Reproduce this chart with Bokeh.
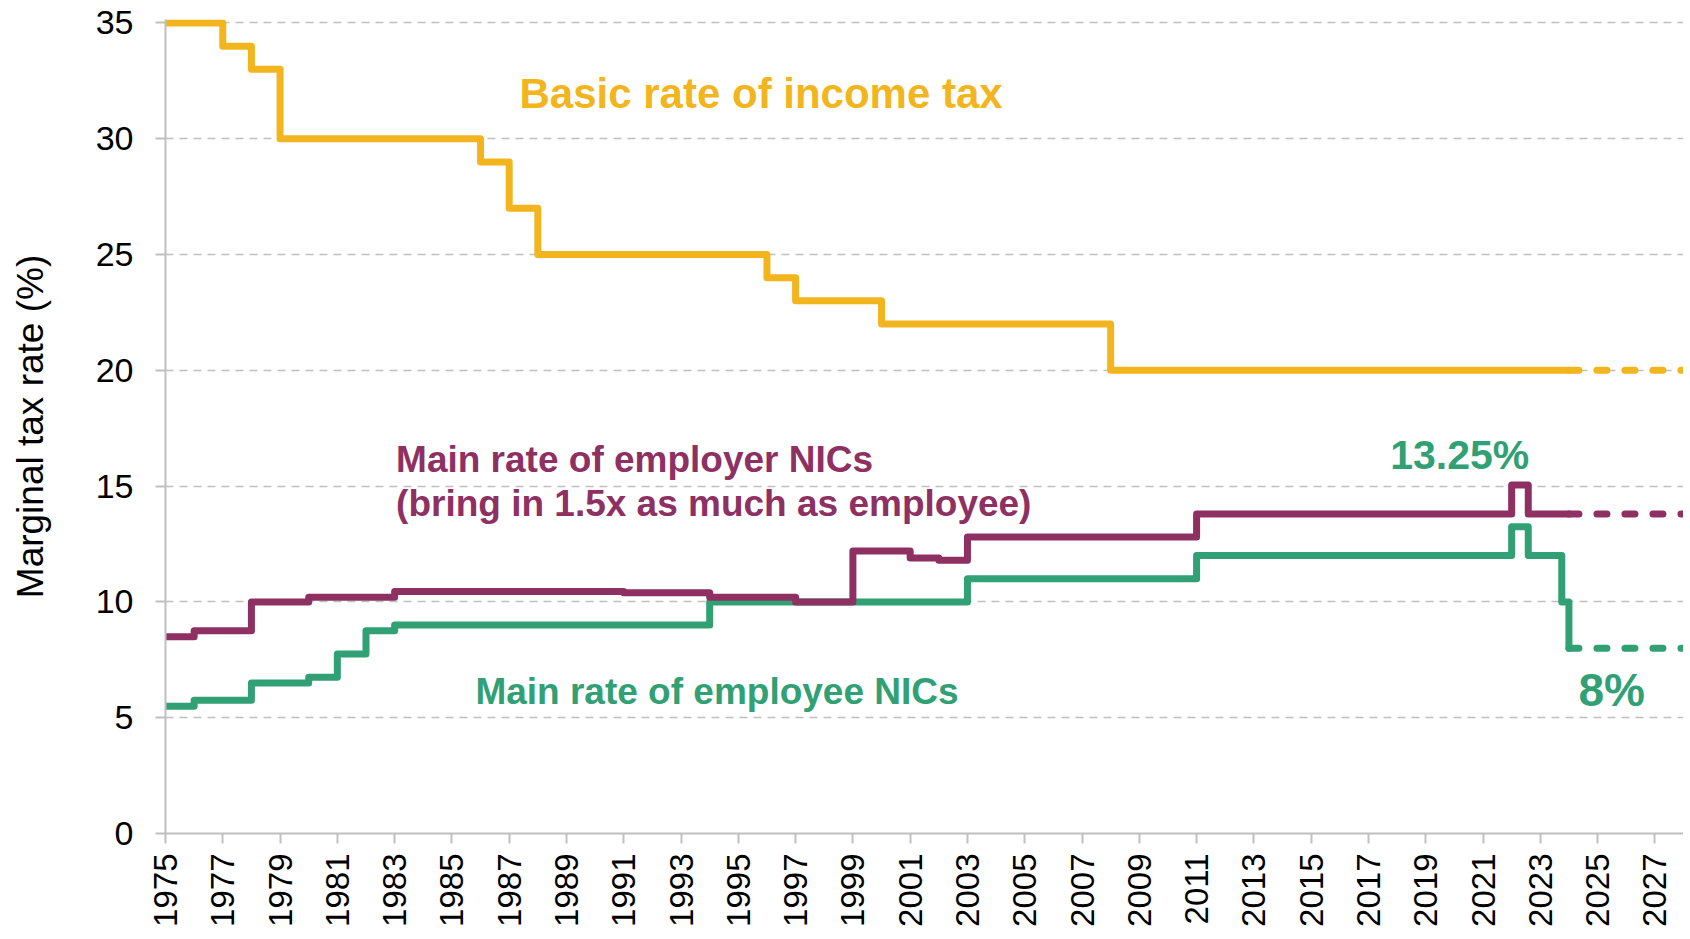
from math import pi
from bokeh.plotting import figure
from bokeh.models import Range1d, FixedTicker, ColumnDataSource
from bokeh.core.properties import value
from bokeh.embed import file_html
from bokeh.resources import INLINE

# ---- data ----
x_tick_years = list(range(1975, 2028, 2))
x_tick_labels = [str(y) for y in x_tick_years]
y_tick_values = [0, 5, 10, 15, 20, 25, 30, 35]
y_tick_labels = ["0", "5", "10", "15", "20", "25", "30", "35"]

basic_years = [1975, 1977, 1978, 1979, 1986, 1987, 1988, 1996, 1997, 2000, 2008, 2024]
basic_rates = [35, 34, 33, 30, 29, 27, 25, 24, 23, 22, 20, 20]
basic_proj_years = [2024, 2028]
basic_proj_rates = [20, 20]

employer_years = [1975, 1976, 1978, 1980, 1983, 1991, 1994, 1997, 1999, 2001, 2002, 2003,
                  2011, 2022, 2022.58, 2024]
employer_rates = [8.5, 8.75, 10, 10.2, 10.45, 10.4, 10.2, 10, 12.2, 11.9, 11.8, 12.8,
                  13.8, 15.05, 13.8, 13.8]
employer_proj_years = [2024, 2028]
employer_proj_rates = [13.8, 13.8]

employee_years = [1975, 1976, 1978, 1980, 1981, 1982, 1983, 1994, 2003, 2011, 2022,
                  2022.58, 2023.75, 2024]
employee_rates = [5.5, 5.75, 6.5, 6.75, 7.75, 8.75, 9, 10, 11, 12, 13.25, 12, 10, 8]
employee_proj_years = [2024, 2028]
employee_proj_rates = [8, 8]

label_texts = ["Basic rate of income tax", "Main rate of employer NICs",
               "(bring in 1.5x as much as employee)", "Main rate of employee NICs",
               "13.25%", "8%"]
label_x = [1987.36, 1983.05, 1983.05, 1985.82, 2017.76, 2024.33]
label_y = [31.96, 16.15, 14.25, 6.12, 16.36, 6.21]

GOLD = "#F2B51E"
PURPLE = "#8E3062"
GREEN = "#31A074"
label_colors = [GOLD, PURPLE, PURPLE, GREEN, GREEN, GREEN]
label_sizes = ["42px", "37px", "37px", "37px", "41px", "46px"]

FONT = "Liberation Sans"

p = figure(width=1683, height=930,
           x_range=Range1d(1975, 2028), y_range=Range1d(0, 35.15),
           output_backend="svg", toolbar_location=None,
           min_border_left=165, min_border_right=0,
           min_border_top=19, min_border_bottom=97)
p.outline_line_color = None
p.background_fill_color = "white"
p.border_fill_color = "white"

# grid
p.xgrid.visible = False
p.ygrid.grid_line_color = "#BFBFBF"
p.ygrid.grid_line_width = 1.5
p.ygrid.grid_line_dash = "8 6"

# axes
for ax in (p.xaxis[0], p.yaxis[0]):
    ax.axis_line_color = "#BFBFBF"
    ax.axis_line_width = 2
    ax.major_tick_line_color = "#BFBFBF"
    ax.major_tick_line_width = 2
    ax.major_tick_in = 0
    ax.major_tick_out = 10
    ax.minor_tick_line_color = None
    ax.major_label_text_font = FONT
    ax.major_label_text_color = "black"

p.xaxis.ticker = FixedTicker(ticks=x_tick_years)
p.xaxis.major_label_overrides = {y: s for y, s in zip(x_tick_years, x_tick_labels)}
p.xaxis.major_label_orientation = pi / 2
p.xaxis.major_label_text_font_size = "33px"
p.xaxis.major_label_standoff = 10

p.yaxis.ticker = FixedTicker(ticks=y_tick_values)
p.yaxis.major_label_overrides = {v: s for v, s in zip(y_tick_values, y_tick_labels)}
p.yaxis.major_label_text_font_size = "34px"
p.yaxis.major_label_standoff = 22
p.yaxis.axis_label = "Marginal tax rate (%)"
p.yaxis.axis_label_text_font = FONT
p.yaxis.axis_label_text_font_style = "normal"
p.yaxis.axis_label_text_font_size = "37px"
p.yaxis.axis_label_text_color = "black"
p.yaxis.axis_label_standoff = 42

LW = 7
# employee (green) first, then employer, then basic
p.step(employee_years, employee_rates, mode="after", line_color=GREEN, line_width=LW,
       line_join="round", line_cap="round")
p.line(employee_proj_years, employee_proj_rates, line_color=GREEN, line_width=LW,
       line_dash="10 18", line_cap="round")
p.step(employer_years, employer_rates, mode="after", line_color=PURPLE, line_width=LW,
       line_join="round", line_cap="round")
p.line(employer_proj_years, employer_proj_rates, line_color=PURPLE, line_width=LW,
       line_dash="10 18", line_cap="round")
p.step(basic_years, basic_rates, mode="after", line_color=GOLD, line_width=LW,
       line_join="round", line_cap="round")
p.line(basic_proj_years, basic_proj_rates, line_color=GOLD, line_width=LW,
       line_dash="10 18", line_cap="round")

src = ColumnDataSource(dict(x=label_x, y=label_y, text=label_texts,
                            color=label_colors, size=label_sizes))
p.text(x="x", y="y", text="text", source=src, text_color="color",
       text_font=value(FONT), text_font_style="bold", text_font_size="size",
       text_baseline="alphabetic", text_align="left")

open("out.html", "w").write(file_html(p, INLINE))
